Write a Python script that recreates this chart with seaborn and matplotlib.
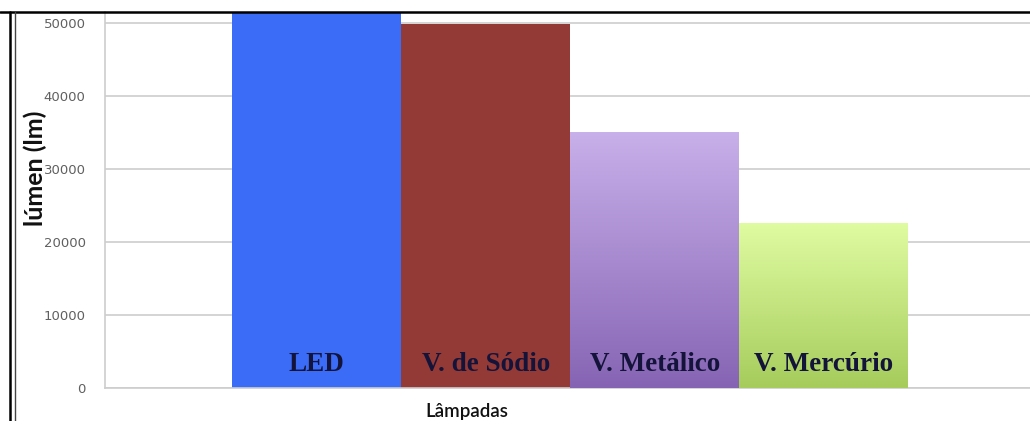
import numpy as np
import pandas as pd
import matplotlib
matplotlib.use("Agg")
import matplotlib.pyplot as plt
from matplotlib.colors import LinearSegmentedColormap
from matplotlib.lines import Line2D
import seaborn as sns

# data
lampadas = ["LED", "V. de Sódio", "V. Metálico", "V. Mercúrio"]
lumen = [52500, 49800, 35000, 22600]

# top / bottom colour of each bar (LED and Sódio are flat)
cores_topo = ["#3a6cf8", "#943a36", "#c8b0ea", "#e0fca2"]
cores_base = ["#3a6cf8", "#943a36", "#8664b4", "#a6cc5c"]

df = pd.DataFrame({"Lampada": lampadas, "Lumen": lumen})

sns.set_style("white")
plt.rcParams["font.family"] = ["DejaVu Sans"]

fig = plt.figure(figsize=(10.3, 4.21), dpi=100)
ax = fig.add_axes([105 / 1030, 33 / 421, 925 / 1030, 376 / 421])

sns.barplot(data=df, x="Lampada", y="Lumen", hue="Lampada",
            palette=cores_topo, width=1.0, legend=False, ax=ax,
            linewidth=0, saturation=1, zorder=2)

ax.set_xlim(-1.254, 4.22)
ax.set_ylim(0, 51500)

# vertical gradient on each bar
for patch, c1, c2 in zip(ax.patches, cores_topo, cores_base):
    if c1 == c2:
        continue
    cmap = LinearSegmentedColormap.from_list("g", [c2, c1])
    x0, y0 = patch.get_x(), patch.get_y()
    w, h = patch.get_width(), patch.get_height()
    grad = np.linspace(0, 1, 256).reshape(-1, 1)
    im = ax.imshow(grad, cmap=cmap, aspect="auto", origin="lower",
                   extent=[x0, x0 + w, y0, y0 + h], zorder=3)
    im.set_clip_path(patch)

# labels inside the bars
for i, nome in enumerate(lampadas):
    ax.text(i, 3200, nome, ha="center", va="center", fontsize=19.5,
            fontweight="bold", family="Liberation Serif", color="#14143a",
            zorder=5)

ax.set_yticks([0, 10000, 20000, 30000, 40000, 50000])
ax.set_xticks([])
ax.tick_params(axis="y", labelsize=9.5, labelcolor="#606060", length=0, pad=14)
ax.yaxis.grid(True, color="#cdcdcd", linewidth=1.2, zorder=0)
ax.set_axisbelow(True)

for s in ["top", "right"]:
    ax.spines[s].set_visible(False)
for s in ["left", "bottom"]:
    ax.spines[s].set_color("#cdcdcd")
    ax.spines[s].set_linewidth(1.2)

ax.set_xlabel("")
ax.set_ylabel("")
fig.text(35 / 1030, 1 - 168 / 421, "lúmen (lm)", rotation=90, ha="center",
         va="center", fontsize=18, fontweight="bold", family="Lato",
         color="#111111")
fig.text(467 / 1030, 1 - 411 / 421, "Lâmpadas", ha="center", va="center",
         fontsize=13.5, fontweight="semibold", family="Lato", color="#111111")

# black frame pieces of the screenshot
fig.add_artist(Line2D([0, 1], [1 - 11.5 / 421] * 2, color="black",
                      linewidth=1.8, transform=fig.transFigure))
fig.add_artist(Line2D([10 / 1030] * 2, [0, 1 - 11.5 / 421], color="black",
                      linewidth=1.8, transform=fig.transFigure))
fig.add_artist(Line2D([15 / 1030] * 2, [0, 1 - 11.5 / 421], color="#444444",
                      linewidth=1.0, transform=fig.transFigure))

fig.savefig("out.png", dpi=100)
